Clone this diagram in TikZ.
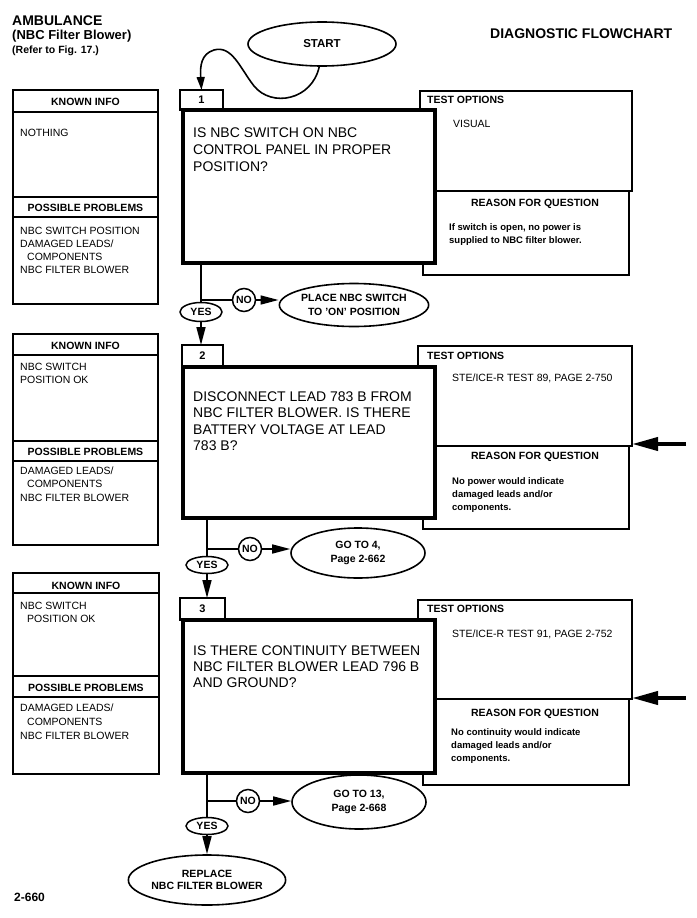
\documentclass[tikz,border=0pt]{standalone}
\usepackage{fontspec}
\setmainfont{Liberation Sans}
\usetikzlibrary{shapes.geometric,arrows.meta,fit}
\newcommand\Lh[1]{\hbox{#1}}
\newcommand\vlines[2]{\vtop{\baselineskip=#1pt\lineskiplimit=-20pt\relax #2}}
\begin{document}
\begin{tikzpicture}[x=1pt,y=-1pt,
 thinbox/.style={draw,line width=1.3pt,inner sep=0pt,outer sep=0pt},
 thickbox/.style={draw,line width=4pt,inner sep=0pt,outer sep=0pt,fill=white},
 tabbox/.style={draw,line width=1.3pt,inner sep=0pt,outer sep=0pt,fill=white},
 tabnum/.style={inner sep=0pt,font=\fontsize{11}{13}\selectfont\bfseries},
 hdr/.style={inner sep=0pt,anchor=base,font=\fontsize{10.5}{12}\selectfont\bfseries},
 hdrw/.style={inner sep=0pt,anchor=base west,font=\fontsize{10.5}{12}\selectfont\bfseries},
 body/.style={inner sep=0pt,anchor=base west,font=\fontsize{10.5}{13}\selectfont},
 why/.style={inner sep=0pt,anchor=base west,font=\fontsize{9.5}{13}\selectfont\bfseries},
 qtext/.style={inner sep=0pt,anchor=base west,font=\fontsize{14}{17}\selectfont},
 oval/.style={ellipse,draw,line width=1.6pt,inner sep=0pt,align=center,font=\fontsize{10.5}{14}\selectfont\bfseries},
 yesno/.style={ellipse,draw,line width=1.5pt,inner sep=0pt,font=\fontsize{10.5}{12}\selectfont\bfseries},
 link/.style={line width=1.6pt},
 arr/.style={line width=1.6pt,-{Triangle[length=18pt,width=9pt]}},
 bigarr/.style={line width=4pt,-{Triangle[length=26pt,width=13pt]}},
 lineh/.style={line width=1.3pt},
]
\fill[white] (0,0) rectangle (696,918);
\useasboundingbox (0,0) rectangle (696,918);

% titles
\node[anchor=base west,inner sep=0pt,font=\fontsize{14}{16}\selectfont\bfseries] (t1) at (12,25) {AMBULANCE};
\node[anchor=base west,inner sep=0pt,font=\fontsize{13}{15}\selectfont\bfseries] (t2) at (12,39) {(NBC Filter Blower)};
\node[anchor=base west,inner sep=0pt,font=\fontsize{10.5}{12}\selectfont\bfseries] (t3) at (12,53) {(Refer to Fig. 17.)};
\node[anchor=base west,inner sep=0pt,font=\fontsize{14}{16}\selectfont\bfseries] (t4) at (490,38) {DIAGNOSTIC FLOWCHART};
\node[anchor=base west,inner sep=0pt,font=\fontsize{12}{14}\selectfont\bfseries] (pg) at (14,901) {2-660};

% ---------- block 1 ----------
\node[thinbox,fit={(13,90) (158,304)}] (kb1) {};
\draw[lineh] (kb1.west |- 0,112) -- (kb1.east |- 0,112);
\draw[lineh] (kb1.west |- 0,197) -- (kb1.east |- 0,197);
\draw[lineh] (kb1.west |- 0,217) -- (kb1.east |- 0,217);
\node[hdr] (k1h) at (85.5,105) {KNOWN INFO};
\node[body] (k1t) at (20,136) {NOTHING};
\node[hdr] (p1h) at (85.5,211) {POSSIBLE PROBLEMS};
\node[body] (p1t) at (20,234) {\vlines{13}{\Lh{NBC SWITCH POSITION}\Lh{DAMAGED LEADS/}\Lh{\hskip7pt COMPONENTS}\Lh{NBC FILTER BLOWER}}};

\node[thinbox,fit={(420,91) (632,191)}] (to1) {};
\node[thinbox,fit={(423,191) (629,275)}] (rq1) {};
\node[hdrw] (to1h) at (427,103) {TEST OPTIONS};
\node[body] (to1t) at (453,127) {VISUAL};
\node[hdr] (rq1h) at (535,206) {REASON FOR QUESTION};
\node[why] (rq1t) at (449,230) {\vlines{13}{\Lh{If switch is open, no power is}\Lh{supplied to NBC filter blower.}}};

\node[tabbox,fit={(180,90) (223,110)}] (tab1) {};
\node[tabnum] (n1) at (tab1.center) {1};
\node[thickbox,fit={(183,110) (435,263)}] (q1) {};
\node[qtext] (q1t) at (193,137) {\vlines{17}{\Lh{IS NBC SWITCH ON NBC}\Lh{CONTROL PANEL IN PROPER}\Lh{POSITION?}}};

\node[oval,minimum width=148pt,minimum height=44pt,font=\fontsize{11.5}{14}\selectfont\bfseries] (start) at (322,44) {START};
\draw[link,-{Triangle[length=13pt,width=8pt]}] (start.-97) .. controls (312,100) and (272,108) .. (254,86) .. controls (240,68) and (232,45) .. (214,50) .. controls (201,54) and (200,66) .. (tab1.north);

\node[yesno,minimum width=42pt,minimum height=19pt] (yes1) at (201,312) {YES};
\node[yesno,circle,minimum size=23pt] (no1) at (244,300) {NO};
\node[oval,minimum width=138pt,minimum height=43pt] (place) at (354,305) {PLACE NBC SWITCH\\TO 'ON' POSITION};
\coordinate (j1) at (yes1.north |- no1.center);
\draw[link] (q1.south -| yes1.north) -- (yes1.north);
\draw[link] (j1) -- (no1.west);
\draw[arr] (no1.east) -- (no1.east -| place.west);

% ---------- block 2 ----------
\node[thinbox,fit={(13,334) (158,545)}] (kb2) {};
\draw[lineh] (kb2.west |- 0,355) -- (kb2.east |- 0,355);
\draw[lineh] (kb2.west |- 0,441) -- (kb2.east |- 0,441);
\draw[lineh] (kb2.west |- 0,461) -- (kb2.east |- 0,461);
\node[hdr] (k2h) at (85.5,349) {KNOWN INFO};
\node[body] (k2t) at (20,370) {\vlines{13}{\Lh{NBC SWITCH}\Lh{POSITION OK}}};
\node[hdr] (p2h) at (85.5,455) {POSSIBLE PROBLEMS};
\node[body] (p2t) at (20,474) {\vlines{13.5}{\Lh{DAMAGED LEADS/}\Lh{\hskip7pt COMPONENTS}\Lh{NBC FILTER BLOWER}}};

\node[thinbox,fit={(418,346) (632,446)}] (to2) {};
\node[thinbox,fit={(423,446) (629,529)}] (rq2) {};
\node[hdrw] (to2h) at (427,359) {TEST OPTIONS};
\node[body] (to2t) at (452,381) {STE/ICE-R TEST 89, PAGE 2-750};
\node[hdr] (rq2h) at (535,459) {REASON FOR QUESTION};
\node[why] (rq2t) at (452,484) {\vlines{13}{\Lh{No power would indicate}\Lh{damaged leads and/or}\Lh{components.}}};

\node[tabbox,fit={(182,345) (223,367)}] (tab2) {};
\node[tabnum] (n2) at (tab2.center) {2};
\node[thickbox,fit={(183,367) (435,518)}] (q2) {};
\node[qtext] (q2t) at (193,401) {\vlines{16.5}{\Lh{DISCONNECT LEAD 783 B FROM}\Lh{NBC FILTER BLOWER. IS THERE}\Lh{BATTERY VOLTAGE AT LEAD}\Lh{783 B?}}};

\draw[arr] (yes1.south) -- (yes1.south |- tab2.north);

\coordinate (ra2) at (686,444);
\draw[bigarr] (ra2) -- (ra2 -| to2.east);

\node[yesno,minimum width=42pt,minimum height=17pt] (yes2) at (207,565) {YES};
\node[yesno,circle,minimum size=23pt] (no2) at (250,549) {NO};
\node[oval,minimum width=134pt,minimum height=50pt] (go4) at (358,553) {GO TO 4,\\Page 2-662};
\coordinate (j2) at (yes2.north |- no2.center);
\draw[link] (q2.south -| yes2.north) -- (yes2.north);
\draw[link] (j2) -- (no2.west);
\draw[arr] (no2.east) -- (no2.east -| go4.west);

% ---------- block 3 ----------
\node[thinbox,fit={(13,573) (159,774)}] (kb3) {};
\draw[lineh] (kb3.west |- 0,593) -- (kb3.east |- 0,593);
\draw[lineh] (kb3.west |- 0,676) -- (kb3.east |- 0,676);
\draw[lineh] (kb3.west |- 0,697) -- (kb3.east |- 0,697);
\node[hdr] (k3h) at (86,589) {KNOWN INFO};
\node[body] (k3t) at (20,609) {\vlines{13}{\Lh{NBC SWITCH}\Lh{\hskip7pt POSITION OK}}};
\node[hdr] (p3h) at (86,691) {POSSIBLE PROBLEMS};
\node[body] (p3t) at (20,711) {\vlines{14}{\Lh{DAMAGED LEADS/}\Lh{\hskip7pt COMPONENTS}\Lh{NBC FILTER BLOWER}}};

\node[thinbox,fit={(418,600) (632,699)}] (to3) {};
\node[thinbox,fit={(423,699) (629,785)}] (rq3) {};
\node[hdrw] (to3h) at (427,612) {TEST OPTIONS};
\node[body] (to3t) at (452,637) {STE/ICE-R TEST 91, PAGE 2-752};
\node[hdr] (rq3h) at (535,716) {REASON FOR QUESTION};
\node[why] (rq3t) at (451,735) {\vlines{13}{\Lh{No continuity would indicate}\Lh{damaged leads and/or}\Lh{components.}}};

\node[tabbox,fit={(180,598) (225,620)}] (tab3) {};
\node[tabnum] (n3) at (tab3.center) {3};
\node[thickbox,fit={(183,620) (435,773)}] (q3) {};
\node[qtext] (q3t) at (193,655) {\vlines{16}{\Lh{IS THERE CONTINUITY BETWEEN}\Lh{NBC FILTER BLOWER LEAD 796 B}\Lh{AND GROUND?}}};

\draw[arr] (yes2.south) -- (yes2.south |- tab3.north);

\coordinate (ra3) at (686,698);
\draw[bigarr] (ra3) -- (ra3 -| to3.east);

\node[yesno,minimum width=42pt,minimum height=17pt] (yes3) at (207,826) {YES};
\node[yesno,circle,minimum size=23pt] (no3) at (248,801) {NO};
\node[oval,minimum width=134pt,minimum height=54pt] (go13) at (359,802) {GO TO 13,\\Page 2-668};
\node[oval,minimum width=130pt,minimum height=50pt,font=\fontsize{10.5}{12.5}\selectfont\bfseries] (repl) at (207,880) {REPLACE\\NBC FILTER BLOWER};
\coordinate (j3) at (yes3.north |- no3.center);
\draw[link] (q3.south -| yes3.north) -- (yes3.north);
\draw[link] (j3) -- (no3.west);
\draw[arr] (no3.east) -- (no3.east -| go13.west);
\draw[arr] (yes3.south) -- (repl.north);
\end{tikzpicture}
\end{document}
